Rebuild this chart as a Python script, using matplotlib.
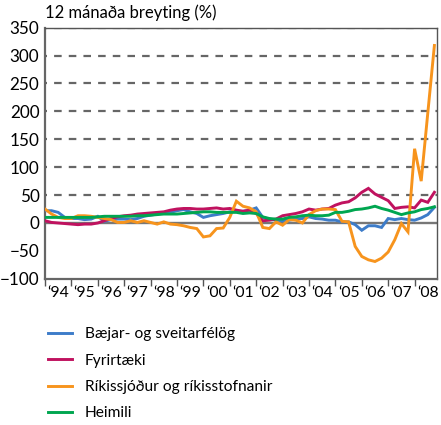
import numpy as np
import matplotlib
matplotlib.use('Agg')
import matplotlib.pyplot as plt
from matplotlib.ticker import FixedLocator, NullFormatter

plt.rcParams['font.family'] = ['Lato', 'DejaVu Sans']

# quarterly, 1994Q1 .. 2008Q4
years = [94, 95, 96, 97, 98, 99, 0, 1, 2, 3, 4, 5, 6, 7, 8]
x_labels = ["\u2018%02d" % y for y in years]

baejar = [22, 22, 19, 10,  8, 8, 6, 7,  12, 3, 6, 7,  7, 6, 8, 12,
          14, 16, 18, 19,  22, 24, 20, 17,  10, 13, 15, 17,  20, 21, 21, 23,
          27, 10, 7, 5,  4, 5, 7, 8,  11, 8, 7, 5,  5, 2, 2, -3,
          -13, -5, -5, -8,  8, 6, 8, 6,  5, 9, 15, 28]
fyrirtaeki = [4, 1, 0, -1,  -2, -3, -2, -2,  0, 4, 8, 11,  13, 14, 16, 17,
              18, 19, 20, 23,  25, 26, 26, 25,  25, 26, 27, 25,  26, 23, 21, 23,
              17, 4, 5, 7,  13, 15, 17, 20,  25, 23, 25, 26,  32, 36, 38, 45,
              55, 62, 52, 46,  40, 26, 28, 29,  27, 41, 37, 55]
rikissjodur = [25, 16, 10, 8,  8, 13, 13, 12,  10, 8, 6, 1,  1, 4, 1, 4,
               1, -2, 2, -2,  -3, -5, -8, -10,  -25, -23, -10, -9,  10, 39, 30, 27,
               20, -8, -10, 2,  -4, 6, 5, 0,  15, 22, 25, 25,  24, 3, 2, -42,
               -60, -66, -69, -63,  -52, -30, -1, -16,  133, 75, 197, 318]
heimili = [10, 10, 10, 10,  10, 10, 10, 10,  11, 12, 12, 12,  12, 12, 13, 13,
           14, 15, 16, 16,  16, 17, 18, 19,  20, 20, 19, 19,  19, 19, 17, 18,
           17, 11, 8, 7,  7, 10, 11, 13,  14, 13, 13, 14,  19, 19, 21, 24,
           25, 27, 30, 26,  23, 19, 15, 18,  20, 24, 26, 29]

series = [
    ("Bæjar- og sveitarfélög", baejar, "#3d7cc9"),
    ("Fyrirtæki", fyrirtaeki, "#c0125f"),
    ("Ríkissjóður og ríkisstofnanir", rikissjodur, "#f7941d"),
    ("Heimili", heimili, "#00a650"),
]

t = 1994 + np.arange(len(baejar)) * 0.25

fig = plt.figure(figsize=(4.41, 4.25), dpi=100)
ax = fig.add_axes([0.102, 0.344, 0.889, 0.591])

for y in range(50, 351, 50):
    ax.axhline(y, color="#666666", lw=1.6, ls=(2.5, (3.4, 3.2)), zorder=1)
ax.axhline(0, color="#777777", lw=1.7, zorder=1)

lines = []
for name, vals, col in series:
    ln, = ax.plot(t, vals, color=col, lw=2.1, label=name, zorder=3,
                  solid_joinstyle="miter")
    lines.append(ln)

ax.set_xlim(1994, 2008.85)
ax.set_ylim(-100, 350)
ax.set_yticks(range(-100, 351, 50))
ax.tick_params(axis="y", length=0, pad=4, labelsize=12.3)

ax.xaxis.set_major_locator(FixedLocator(np.arange(1994, 2009)))
ax.xaxis.set_major_formatter(NullFormatter())
ax.xaxis.set_minor_locator(FixedLocator(np.arange(1994, 2009) + 0.5))
ax.set_xticklabels(x_labels, minor=True)
ax.tick_params(axis="x", which="major", length=5, width=1, color="#555555", direction="out")
ax.tick_params(axis="x", which="minor", length=0, pad=5, labelsize=11.3)

for s in ["left", "bottom"]:
    ax.spines[s].set_color("#666666")
    ax.spines[s].set_linewidth(1.6)
for s in ["top", "right"]:
    ax.spines[s].set_color("#555555")
    ax.spines[s].set_linewidth(1.0)

fig.text(0.102, 0.95, "12 mánaða breyting (%)", fontsize=12, ha="left", va="bottom")

fig.legend(handles=lines, loc="upper left", bbox_to_anchor=(0.094, 0.245),
           frameon=False, fontsize=11.2, handlelength=1.54, handletextpad=0.83,
           labelspacing=0.8, borderaxespad=0)

fig.savefig("out.png", dpi=100)
